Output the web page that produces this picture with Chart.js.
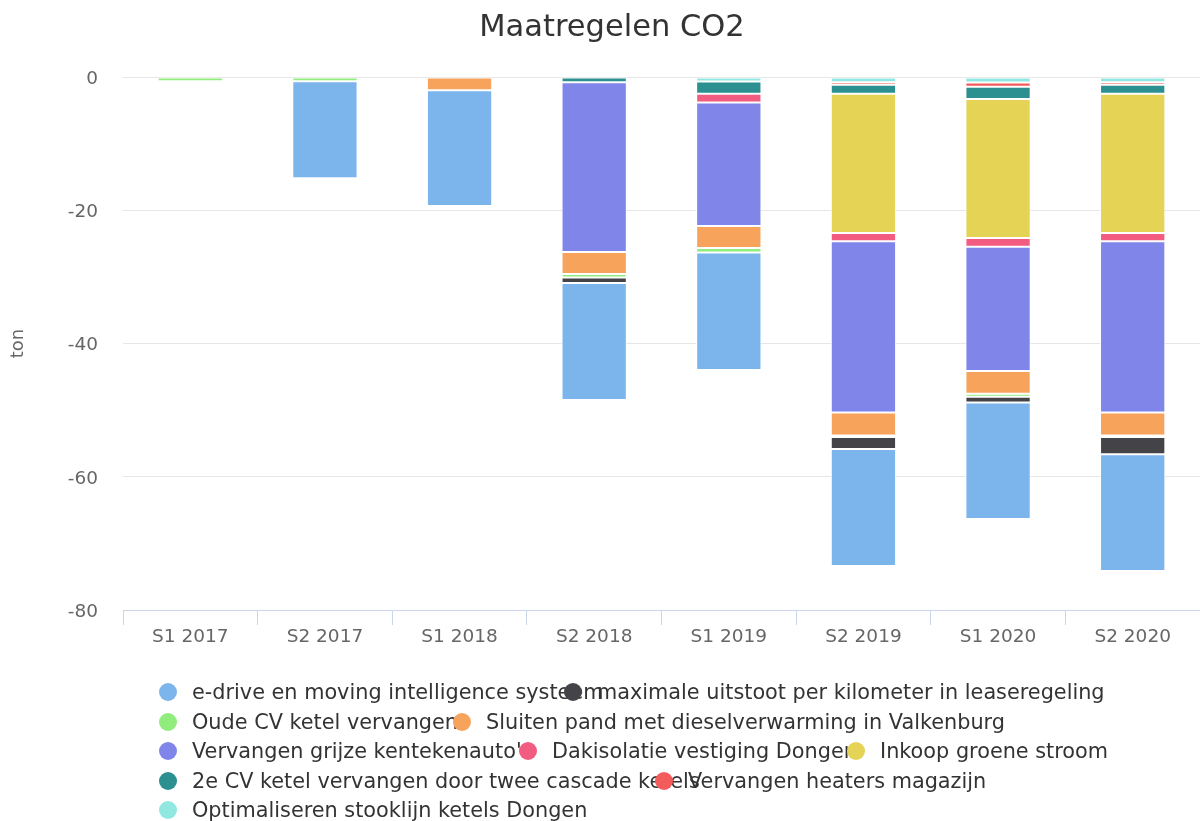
<!DOCTYPE html>
<html>
<head>
<meta charset="utf-8">
<script src="https://cdn.jsdelivr.net/npm/chart.js@4/dist/chart.umd.min.js"></script>
<style>
  html, body { margin: 0; padding: 0; background: #ffffff; }
  #wrap { position: relative; width: 1200px; height: 821px; overflow: hidden; font-family: "DejaVu Sans", sans-serif; }
  #chart { position: absolute; left: 0; top: 0; }
  #title { position: absolute; top: 6px; left: 312px; width: 600px; text-align: center; font-size: 30.5px; color: #333333; line-height: 40px; white-space: nowrap; }
  .lg-dot { position: absolute; width: 18px; height: 18px; border-radius: 50%; }
  .lg-txt { position: absolute; font-size: 20.8px; color: #333333; white-space: nowrap; line-height: 26px; }
</style>
</head>
<body>
<div id="wrap">
  <canvas id="chart" width="1200" height="821"></canvas>
  <div id="title">Maatregelen CO2</div>
  <div id="legend"></div>
</div>
<script>
// ---- data ----
const categories = ['S1 2017', 'S2 2017', 'S1 2018', 'S2 2018', 'S1 2019', 'S2 2019', 'S1 2020', 'S2 2020'];
const seriesNames = [
  'e-drive en moving intelligence systeem',
  'maximale uitstoot per kilometer in leaseregeling',
  'Oude CV ketel vervangen',
  'Sluiten pand met dieselverwarming in Valkenburg',
  "Vervangen grijze kentekenauto's",
  'Dakisolatie vestiging Dongen',
  'Inkoop groene stroom',
  '2e CV ketel vervangen door twee cascade ketels',
  'Vervangen heaters magazijn',
  'Optimaliseren stooklijn ketels Dongen'
];
const eDrive       = [null, -14.55, -17.36, -17.56, -17.64, -17.56, -17.52, -17.52];
const maxUitstoot  = [null, null, null, -0.83, null, -1.8, -0.83, -2.6];
const oudeCV       = [-0.65, -0.65, null, -0.53, -0.68, -0.22, -0.45, -0.22];
const sluitenPand  = [null, null, -2.0, -3.3, -3.3, -3.45, -3.42, -3.45];
const grijzeAuto   = [null, null, null, -25.47, -18.54, -25.7, -18.66, -25.7];
const dakisolatie  = [null, null, null, null, -1.31, -1.25, -1.31, -1.25];
const groeneStroom = [null, null, null, null, null, -20.9, -20.86, -20.9];
const cvCascade    = [null, null, null, -0.8, -1.86, -1.34, -1.86, -1.34];
const heaters      = [null, null, null, null, null, -0.4, -0.62, -0.4];
const stooklijn    = [null, null, null, null, -0.66, -0.78, -0.83, -0.78];
const yTicks = [0, -20, -40, -60, -80];

// ---- styles ----
const seriesColors = ['#7cb5ec', '#434348', '#90ed7d', '#f7a35c', '#8085e9', '#f15c80', '#e4d354', '#2b908f', '#f45b5b', '#91e8e1'];
const seriesData = [eDrive, maxUitstoot, oudeCV, sluitenPand, grijzeAuto, dakisolatie, groeneStroom, cvCascade, heaters, stooklijn];

// legend layout (rows of series indices and left positions of the markers)
const legendRows = [[0, 1], [2, 3], [4, 5, 6], [7, 8], [9]];
const legendLefts = [[159, 564], [159, 453], [159, 519, 847], [159, 655], [159]];
const legendRowCenters = [692, 721.5, 751, 781, 810];

// Highcharts-like stacking: last series nearest to the axis
const datasets = [];
for (let i = seriesNames.length - 1; i >= 0; i--) {
  datasets.push({
    label: seriesNames[i],
    data: seriesData[i],
    backgroundColor: seriesColors[i],
    borderColor: '#ffffff',
    borderWidth: 1,
    borderSkipped: false,
    barPercentage: 0.485,
    categoryPercentage: 1.0
  });
}

new Chart(document.getElementById('chart'), {
  type: 'bar',
  data: { labels: categories, datasets: datasets },
  options: {
    responsive: false,
    animation: false,
    events: [],
    layout: { padding: { top: 77, left: 0, right: 0, bottom: 0 } },
    plugins: {
      legend: { display: false },
      title: { display: false },
      tooltip: { enabled: false }
    },
    scales: {
      x: {
        stacked: true,
        offset: true,
        afterFit: (s) => { s.height = 211; },
        border: { display: true, color: '#ccd6eb', width: 1 },
        grid: { offset: true, drawOnChartArea: false, drawTicks: true, tickLength: 15, color: '#ccd6eb', lineWidth: 1 },
        ticks: { color: '#666666', font: { family: 'DejaVu Sans', size: 18.5 }, padding: 1, maxRotation: 0, autoSkip: false }
      },
      y: {
        stacked: true,
        min: -80,
        max: 0,
        afterFit: (s) => { s.width = 123; },
        afterBuildTicks: (s) => { s.ticks = yTicks.map(v => ({ value: v })); },
        border: { display: false },
        grid: { color: '#e6e6e6', lineWidth: 1, drawTicks: false },
        ticks: { color: '#666666', font: { family: 'DejaVu Sans', size: 18.5 }, padding: 25, labelOffset: 2 },
        title: { display: true, text: 'ton', color: '#666666', font: { family: 'DejaVu Sans', size: 18 }, padding: { top: 8, bottom: 0 } }
      }
    }
  }
});

// ---- HTML legend ----
const legendEl = document.getElementById('legend');
legendRows.forEach((row, r) => {
  row.forEach((idx, k) => {
    const left = legendLefts[r][k];
    const cy = legendRowCenters[r];
    const dot = document.createElement('div');
    dot.className = 'lg-dot';
    dot.style.left = left + 'px';
    dot.style.top = (cy - 9) + 'px';
    dot.style.background = seriesColors[idx];
    const txt = document.createElement('div');
    txt.className = 'lg-txt';
    txt.style.left = (left + 33) + 'px';
    txt.style.top = (cy - 13) + 'px';
    txt.textContent = seriesNames[idx];
    legendEl.appendChild(dot);
    legendEl.appendChild(txt);
  });
});
</script>
</body>
</html>
